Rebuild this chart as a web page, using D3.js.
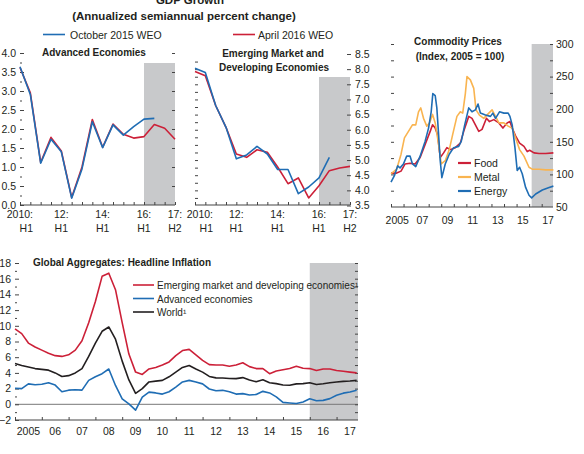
<!DOCTYPE html>
<html lang="en">
<head>
<meta charset="utf-8">
<title>WEO charts</title>
<script src="https://d3js.org/d3.v7.min.js"></script>
<style>
  body { margin: 0; background: #fff; }
</style>
</head>
<body>
<svg width="584" height="454"></svg>
<script>
// ---- GDP growth, semiannual 2010:H1 .. 2017:H2
const halves = ["2010H1","2010H2","2011H1","2011H2","2012H1","2012H2","2013H1","2013H2",
                "2014H1","2014H2","2015H1","2015H2","2016H1","2016H2","2017H1","2017H2"];
const gdpTickIdx = [0, 4, 8, 12, 15];
const gdpTickTop = ["2010:", "12:", "14:", "16:", "17:"];
const gdpTickBottom = ["H1", "H1", "H1", "H1", "H2"];
const aeOct15 = [3.64, 2.91, 1.10, 1.73, 1.40, 0.18, 0.95, 2.19, 1.51, 2.11, 1.84, 2.06, 2.26, 2.28];
const aeApr16 = [3.62, 2.95, 1.12, 1.78, 1.42, 0.20, 1.00, 2.25, 1.52, 2.13, 1.86, 1.76, 1.80, 2.12, 2.02, 1.73];
const emOct15 = [8.03, 7.89, 6.80, 6.08, 5.04, 5.17, 5.45, 5.20, 4.69, 4.69, 3.89, 4.11, 4.41, 5.09];
const emApr16 = [7.92, 7.78, 6.80, 6.08, 5.20, 5.09, 5.34, 5.26, 4.77, 4.22, 4.41, 3.75, 4.15, 4.65, 4.74, 4.79];

// ---- commodity prices, [year, index 2005 = 100]
const food = [[2005.0,102],[2005.45,102],[2005.8,105],[2006.12,116],[2006.52,117],[2006.92,116],[2007.32,126],
  [2007.72,146],[2008.12,166],[2008.31,176],[2008.52,171],[2008.71,161],[2008.92,126],[2009.19,133],[2009.45,141],
  [2009.72,138],[2010.12,141],[2010.52,148],[2010.79,166],[2011.19,189],[2011.45,186],[2011.72,176],[2011.99,166],
  [2012.25,169],[2012.6,186],[2012.84,181],[2013.19,184],[2013.59,179],[2013.91,171],[2014.25,179],[2014.47,181],
  [2014.65,171],[2014.92,159],[2015.24,148],[2015.59,143],[2015.85,135],[2016.04,137],[2016.39,133],[2016.79,132],
  [2017.32,132],[2017.93,133]];
const metal = [[2005.0,101],[2005.45,108],[2005.8,131],[2006.07,156],[2006.39,166],[2006.71,176],[2006.97,176],
  [2007.19,196],[2007.37,202],[2007.59,186],[2007.85,174],[2008.07,179],[2008.31,192],[2008.52,179],[2008.79,146],
  [2009.0,116],[2009.32,121],[2009.64,138],[2009.91,161],[2010.25,189],[2010.52,196],[2010.71,194],[2010.92,224],
  [2011.05,250],[2011.32,245],[2011.59,232],[2011.77,199],[2012.04,191],[2012.39,186],[2012.79,194],[2013.05,199],
  [2013.27,191],[2013.59,179],[2013.99,179],[2014.33,174],[2014.65,171],[2014.92,156],[2015.24,138],[2015.59,128],
  [2015.99,111],[2016.25,108],[2016.79,108],[2017.32,107],[2017.93,107]];
const energy = [[2005.0,88],[2005.27,98],[2005.53,113],[2005.72,110],[2005.99,116],[2006.25,128],[2006.52,128],
  [2006.71,116],[2006.97,112],[2007.32,128],[2007.72,151],[2007.99,171],[2008.2,196],[2008.33,224],[2008.52,221],
  [2008.65,202],[2008.79,161],[2008.92,121],[2009.05,95],[2009.32,116],[2009.64,131],[2009.99,141],[2010.39,143],
  [2010.6,151],[2010.87,176],[2011.19,202],[2011.45,196],[2011.72,199],[2011.93,208],[2012.12,194],[2012.52,191],
  [2012.92,189],[2013.11,194],[2013.32,186],[2013.64,196],[2013.99,194],[2014.33,194],[2014.47,189],[2014.65,176],
  [2014.87,141],[2015.05,106],[2015.24,111],[2015.45,101],[2015.72,80],[2015.99,68],[2016.2,64],[2016.52,70],
  [2017.05,76],[2017.59,80],[2017.93,82]];
const commodityYears = ["2005", "07", "09", "11", "13", "15", "17"];

// ---- headline inflation, quarterly 2005:Q1 .. 2017:Q4
const inflYears = ["2005","06","07","08","09","10","11","12","13","14","15","16","17"];
const emde = [9.6, 9.0, 7.8, 7.3, 6.9, 6.5, 6.2, 6.1, 6.3, 6.9, 8.1, 10.4, 13.1, 16.3, 16.7, 14.6, 10.4, 6.4, 4.1, 3.8,
  4.5, 4.7, 5.0, 5.4, 6.2, 6.85, 7.0, 6.3, 5.6, 5.05, 5.0, 5.0, 4.85, 5.0, 5.3, 4.8, 4.55, 4.55, 3.9, 4.25,
  4.4, 4.55, 4.85, 4.6, 4.55, 4.3, 4.5, 4.5, 4.3, 4.2, 4.1, 4.0];
const advanced = [2.05, 2.0, 2.6, 2.5, 2.55, 2.75, 2.45, 1.6, 1.8, 1.85, 1.8, 3.05, 3.5, 3.9, 4.5, 2.4, 0.7, 0.05, -0.75, 0.9,
  1.55, 1.45, 1.3, 1.6, 2.2, 2.85, 3.05, 2.85, 2.6, 1.95, 1.72, 1.78, 1.6, 1.3, 1.36, 1.18, 1.25, 1.65, 1.45, 0.95,
  0.25, 0.17, 0.1, 0.3, 0.7, 0.45, 0.5, 0.72, 1.15, 1.42, 1.57, 1.78];
const world = [5.2, 4.95, 4.75, 4.55, 4.45, 4.35, 4.0, 3.55, 3.65, 4.0, 4.55, 6.1, 7.8, 9.3, 9.85, 8.3, 5.5, 3.1, 1.4, 2.0,
  2.85, 2.95, 3.05, 3.5, 4.1, 4.7, 4.95, 4.5, 4.1, 3.55, 3.37, 3.35, 3.28, 3.27, 3.4, 3.1, 2.87, 3.12, 2.75, 2.63,
  2.45, 2.42, 2.6, 2.63, 2.75, 2.52, 2.62, 2.75, 2.85, 2.92, 2.97, 3.05];

const red = "#cc2038", blue = "#1f6db4", black = "#231f20", orange = "#f9b450", shadeCol = "#c8c9cb";
const font = "'Liberation Sans', Arial, sans-serif";
const fs = 10;
const svg = d3.select("svg");

function txt(x, y, s, opts = {}) {
  return svg.append("text").attr("x", x).attr("y", y)
    .attr("font-family", font).attr("font-size", opts.size || fs)
    .attr("font-weight", opts.bold ? "bold" : null)
    .attr("text-anchor", opts.anchor || "start").attr("fill", black).text(s);
}

function yTicks(scale, vals, x, size, pad, fmt, right) {
  const ax = (right ? d3.axisRight(scale) : d3.axisLeft(scale))
    .tickValues(vals).tickSize(size).tickPadding(pad).tickFormat(fmt || "");
  const a = svg.append("g").attr("transform", `translate(${x},0)`).call(ax);
  a.select(".domain").remove();
  a.attr("font-family", font).attr("font-size", 10.5).attr("color", black);
  a.selectAll("line").attr("stroke", "#444");
  return a;
}

function xBase(scale, vals, yBase) {
  const a = svg.append("g").attr("transform", `translate(0,${yBase})`)
    .call(d3.axisBottom(scale).tickValues(vals).tickSize(-3).tickSizeOuter(0).tickFormat(""));
  a.select(".domain").remove();
  a.selectAll("line").attr("stroke", "#444");
  a.append("line").attr("x1", scale.range()[0]).attr("x2", scale.range()[1]).attr("stroke", "#444");
}

function drawLine(data, xf, yf, color, w) {
  svg.append("path").datum(data).attr("fill", "none").attr("stroke", color)
    .attr("stroke-width", w || 1.6).attr("stroke-linejoin", "round")
    .attr("d", d3.line().x(xf).y(yf));
}

const oneDec = d => d3.format(".1f")(d);

// ================= GDP titles and legend
txt(190, 4, "GDP Growth", { anchor: "middle", bold: true, size: 11.5 });
txt(184, 19.5, "(Annualized semiannual percent change)", { anchor: "middle", bold: true, size: 11.5 });
svg.append("line").attr("x1", 43).attr("x2", 65).attr("y1", 34.5).attr("y2", 34.5).attr("stroke", blue).attr("stroke-width", 1.6);
txt(70, 38.5, "October 2015 WEO", { size: 10.5 });
svg.append("line").attr("x1", 233).attr("x2", 255).attr("y1", 34.5).attr("y2", 34.5).attr("stroke", red).attr("stroke-width", 1.6);
txt(258, 38.5, "April 2016 WEO", { size: 10.5 });

function gdpLabels(x, yBase, firstShift) {
  gdpTickIdx.forEach((idx, k) => {
    const first = k === 0;
    const xx = x(idx) + (first ? firstShift : 0);
    const anchor = first ? "end" : "middle";
    txt(xx, yBase + 13, gdpTickTop[k], { anchor, size: 10.5 });
    txt(xx, yBase + 27, gdpTickBottom[k], { anchor, size: 10.5 });
  });
}

// ---- Advanced economies panel
{
  const x = d3.scaleLinear().domain([0, halves.length - 1]).range([20, 175]);
  const y = d3.scaleLinear().domain([0, 4]).range([205, 53]);
  svg.append("rect").attr("x", x(12)).attr("y", 63).attr("width", x(15) - x(12)).attr("height", 205 - 63).attr("fill", shadeCol);
  yTicks(y, d3.range(0, 4.01, 0.5), 20, -4, 4, oneDec);
  yTicks(y, d3.range(0.25, 4, 0.5), 20, -2, 0);
  yTicks(y, d3.range(0.5, 4.01, 0.5), 175, -3, 0, null, true);
  xBase(x, d3.range(halves.length), 205);
  gdpLabels(x, 205, 13);
  drawLine(aeApr16, (d, i) => x(i), d => y(d), red);
  drawLine(aeOct15, (d, i) => x(i), d => y(d), blue);
  txt(42, 56, "Advanced Economies", { bold: true });
}

// ---- Emerging market panel
{
  const x = d3.scaleLinear().domain([0, halves.length - 1]).range([195, 350]);
  const y = d3.scaleLinear().domain([3.5, 8.5]).range([205.5, 54]);
  svg.append("rect").attr("x", x(12)).attr("y", 77).attr("width", x(15) - x(12)).attr("height", 205 - 77).attr("fill", shadeCol);
  yTicks(y, d3.range(3.75, 8.5, 0.25), 195, -3, 0);
  yTicks(y, d3.range(3.5, 8.51, 0.5), 351, -4, 4, oneDec, true);
  xBase(x, d3.range(halves.length), 205);
  gdpLabels(x, 205, 18);
  drawLine(emApr16, (d, i) => x(i), d => y(d), red);
  drawLine(emOct15, (d, i) => x(i), d => y(d), blue);
  txt(273, 57, "Emerging Market and", { bold: true, anchor: "middle" });
  txt(274, 71, "Developing Economies", { bold: true, anchor: "middle" });
}

// ================= Commodity prices
{
  const x = d3.scaleLinear().domain([2005, 2017.9]).range([391, 553]);
  const y = d3.scaleLinear().domain([50, 300]).range([207, 44]);
  svg.append("rect").attr("x", x(2016.2)).attr("y", y(300)).attr("width", x(2017.9) - x(2016.2))
    .attr("height", y(50) - y(300)).attr("fill", shadeCol);
  yTicks(y, d3.range(75, 300.1, 25), 391, -3, 0);
  yTicks(y, d3.range(75, 300.1, 25), 553, -3, 3, d => d % 50 === 0 ? d : "", true);
  txt(556, 211, "50", { size: 10.5 });
  xBase(x, d3.range(2005, 2018), 207);
  commodityYears.forEach((s, k) => txt(x(2005 + 2 * k + 0.5), 224, s, { anchor: "middle", size: 10.5 }));
  drawLine(food, d => x(d[0]), d => y(d[1]), red, 1.6);
  drawLine(metal, d => x(d[0]), d => y(d[1]), orange, 1.6);
  drawLine(energy, d => x(d[0]), d => y(d[1]), blue, 1.6);
  txt(458, 45, "Commodity Prices", { bold: true, anchor: "middle" });
  txt(460, 60, "(Index, 2005 = 100)", { bold: true, anchor: "middle" });
  [["Food", red], ["Metal", orange], ["Energy", blue]].forEach(([s, c], k) => {
    const yy = 163 + 14 * k;
    svg.append("line").attr("x1", 458).attr("x2", 471).attr("y1", yy).attr("y2", yy).attr("stroke", c).attr("stroke-width", 2.2);
    txt(474, yy + 4, s, { size: 10.5 });
  });
}

// ================= Headline inflation
{
  const x = d3.scaleLinear().domain([2005, 2017.8]).range([15, 358]);
  const y = d3.scaleLinear().domain([-2, 18]).range([420, 263]);
  const qx = (d, i) => x(2005 + i * 0.25);
  svg.append("rect").attr("x", x(2016)).attr("y", y(18)).attr("width", x(2017.8) - x(2016))
    .attr("height", y(-2) - y(18)).attr("fill", shadeCol);
  svg.append("line").attr("x1", x(2005)).attr("x2", x(2017.8)).attr("y1", y(0)).attr("y2", y(0))
    .attr("stroke", "#777").attr("stroke-width", 1);
  yTicks(y, d3.range(-2, 18.1, 2), 15, -4, 4, d => d3.format("d")(d).replace("-", "\u2212"));
  yTicks(y, d3.range(-1, 18, 2), 15, -2, 0);
  yTicks(y, d3.range(-1, 18.1, 1), 358, -3, 0, null, true);
  xBase(x, d3.range(2005, 2018), 420);
  inflYears.forEach((s, k) => txt(x(2005 + k + 0.5), 435, s, { anchor: "middle", size: 10.5 }));
  drawLine(emde, qx, d => y(d), red);
  drawLine(advanced, qx, d => y(d), blue);
  drawLine(world, qx, d => y(d), black);
  txt(33, 266, "Global Aggregates: Headline Inflation", { bold: true });
  [["Emerging market and developing economies\u00b9", red], ["Advanced economies", blue], ["World\u00b9", black]]
    .forEach(([s, c], k) => {
      const yy = 285 + 13.5 * k;
      svg.append("line").attr("x1", 133).attr("x2", 154).attr("y1", yy).attr("y2", yy).attr("stroke", c).attr("stroke-width", 1.6);
      txt(157, yy + 4, s);
    });
}
</script>
</body>
</html>
